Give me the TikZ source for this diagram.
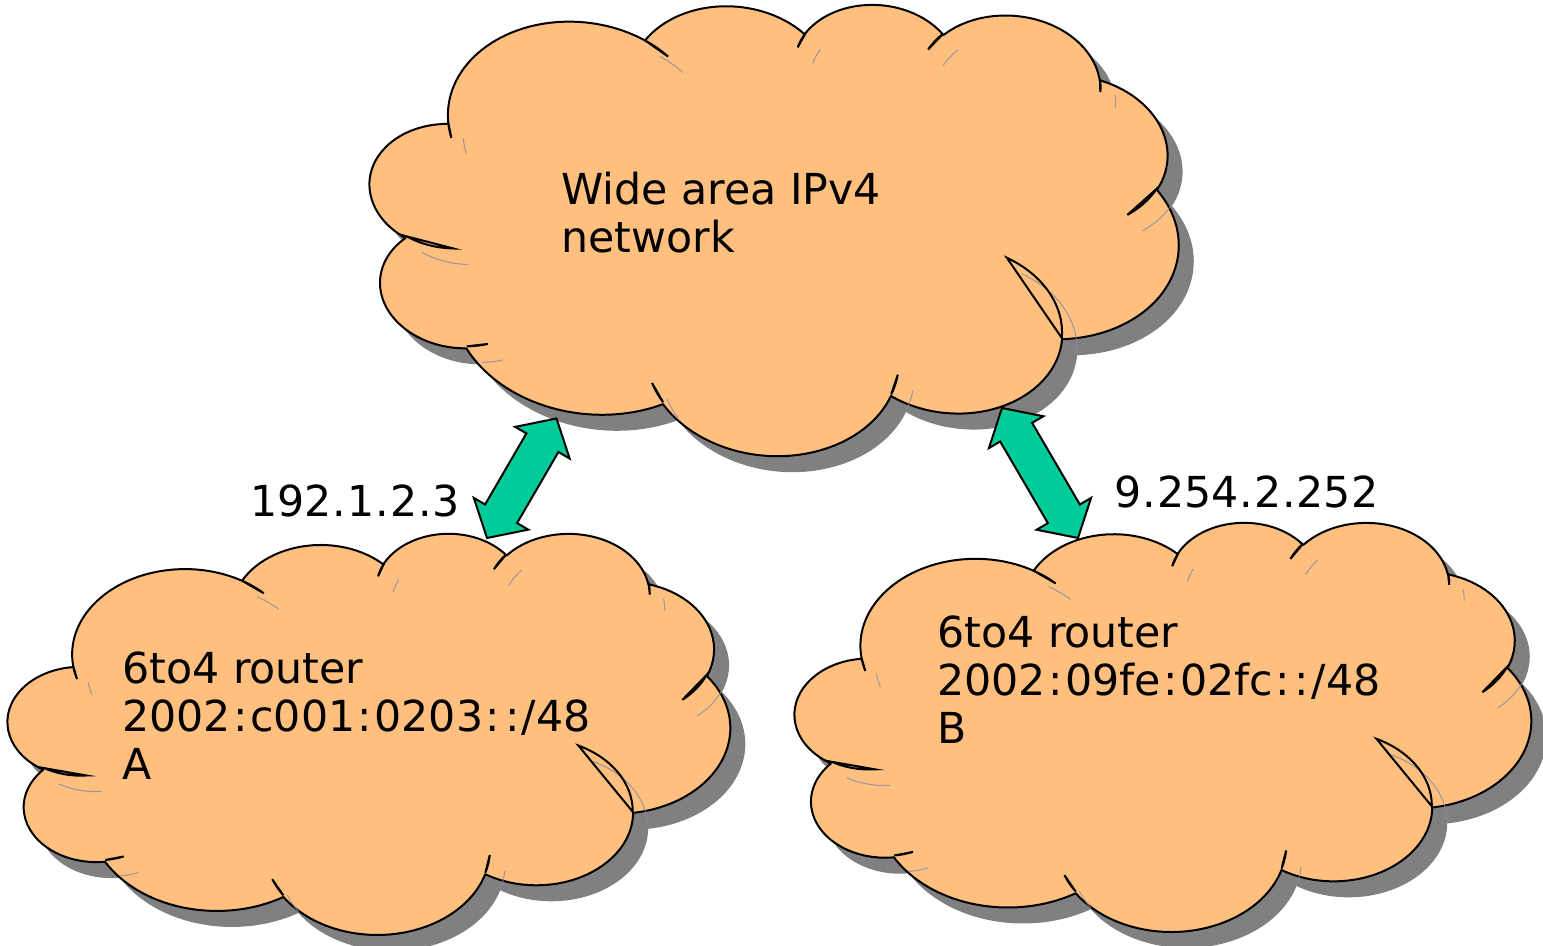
\documentclass[tikz,border=0pt]{standalone}
\usepackage{fontspec}
\setmainfont{DejaVu Sans}
\usetikzlibrary{calc}
\definecolor{cloudfill}{RGB}{255,191,127}
\definecolor{shadowgray}{RGB}{128,128,128}
\definecolor{arrowgreen}{RGB}{0,204,153}
\definecolor{faintblue}{RGB}{130,140,160}

% wider colon and period, closer to the reference face
\newcommand\cln{\kern.058em:\kern.058em}
\newcommand\pnt{\kern.023em.\kern.023em}

% elliptical arc with visual (OOXML-style) start/sweep angles
\newcommand\carc[4]{arc[start angle={atan2((#1)*sin(#3),(#2)*cos(#3))},
  delta angle={atan2((#1)*sin(#3+#4),(#2)*cos(#3+#4))-atan2((#1)*sin(#3),(#2)*cos(#3))
   -360*round((atan2((#1)*sin(#3+#4),(#2)*cos(#3+#4))-atan2((#1)*sin(#3),(#2)*cos(#3))-(#4))/360)},
  x radius=#1, y radius=#2]}

\newcommand\cloudoutline{(3.9,14.37)
  \carc{6.753}{9.19}{-190.4875}{123.7805}
  \carc{5.333}{7.267}{-144.1024}{89.9452}
  \carc{4.365}{5.945}{-145.8079}{99.7230}
  \carc{4.857}{6.595}{-130.9861}{117.2417}
  \carc{5.333}{7.273}{-78.7089}{109.0269}
  \carc{6.775}{9.22}{-46.2673}{130.2690}
  \carc{5.785}{7.867}{0.6250}{114.0333}
  \carc{6.752}{9.215}{22.4516}{115.1726}
  \carc{7.72}{10.543}{66.2426}{75.7110}
  \carc{4.36}{5.918}{-274.9421}{146.7356}
  \carc{4.345}{5.945}{-246.8285}{152.5189}
  -- cycle}

\newcommand\cloudinner[1]{%
  (4.693,26.177) \carc{4.345}{5.945}{86.7420}{26.4295} #1
  (6.928,34.899) \carc{4.36}{5.918}{73.6105}{11.4475} #1
  (16.478,39.09) \carc{6.752}{9.215}{137.6242}{14.0811} #1
  (28.827,34.751) \carc{6.752}{9.215}{6.4533}{15.9984} #1
  (34.129,22.954) \carc{5.785}{7.867}{-70.2924}{70.9174} #1
  (41.798,15.354) \carc{5.333}{7.273}{30.3180}{27.7515} #1
  (38.324,5.426) \carc{4.857}{6.595}{-13.7443}{14.8589} #1
  (29.078,3.952) \carc{4.857}{6.595}{-149.1815}{18.1954} #1
  (22.141,4.72) \carc{4.365}{5.945}{-163.4943}{17.6864} #1
  (14.0,5.192) \carc{6.753}{9.19}{-66.7070}{12.3194} #1
  (4.127,15.789) \carc{6.753}{9.19}{157.6544}{11.8582} #1}

% cx cy W H rotation name
\newcommand\drawcloud[6]{%
  \coordinate (#6) at (#1,#2);
  \begin{scope}[shift={(#1+15,#2+16)}, rotate=#5, xscale=#3/43.2, yscale=#4/43.2, shift={(-21.6,-21.6)}]
    \fill[shadowgray] \cloudoutline;
  \end{scope}
  \begin{scope}[shift={(#1,#2)}, rotate=#5, xscale=#3/43.2, yscale=#4/43.2, shift={(-21.6,-21.6)}]
    \filldraw[cloudbody] \cloudoutline;
  \end{scope}
  \begin{scope}[shift={(#1+15,#2+16)}, rotate=#5, xscale=#3/43.2, yscale=#4/43.2, shift={(-21.6,-21.6)}]
    \draw[faintline] \cloudinner{};
  \end{scope}
  \begin{scope}[shift={(#1,#2)}, rotate=#5, xscale=#3/43.2, yscale=#4/43.2, shift={(-21.6,-21.6)}]
    \draw[innerline] \cloudinner{-- cycle};
  \end{scope}
}

\newcommand\blockarrow[2]{%
  \filldraw[bigarrow] (#1)
   -- ($(#1)!14pt!(#2)!15.75pt!90:(#2)$)
   -- ($(#1)!14pt!(#2)!9.25pt!90:(#2)$)
   -- ($(#2)!14pt!(#1)!9.25pt!-90:(#1)$)
   -- ($(#2)!14pt!(#1)!15.75pt!-90:(#1)$)
   -- (#2)
   -- ($(#2)!14pt!(#1)!15.75pt!90:(#1)$)
   -- ($(#2)!14pt!(#1)!9.25pt!90:(#1)$)
   -- ($(#1)!14pt!(#2)!9.25pt!-90:(#2)$)
   -- ($(#1)!14pt!(#2)!15.75pt!-90:(#2)$)
   -- cycle;}

\tikzset{
  cloudbody/.style={fill=cloudfill, draw=black, line width=1pt, line join=round},
  innerline/.style={draw=black, line width=1pt},
  faintline/.style={draw=faintblue, line width=0.5pt, opacity=0.8},
  bigarrow/.style={fill=arrowgreen, draw=black, line width=1pt, line join=miter},
  lbl/.style={font=\fontsize{21.35}{24}\selectfont, inner sep=0pt, align=left, text=black}
}

\begin{document}
\begin{tikzpicture}[x=0.5pt, y=-0.5pt]
\useasboundingbox (0,0) rectangle (1543,946);

\drawcloud{773.5}{225}{811}{458}{-4.5}{wan}
\drawcloud{369}{733}{722}{401}{0}{routerA}
\drawcloud{1163}{726}{736}{409}{0}{routerB}

% anchor=base west of a multi-line node sits on its last line
\node[lbl, anchor=base west] (wantext) at (561,253) {Wide area IPv4\\network};
\node[lbl, anchor=base west] (atext) at (122,779) {6to4 router\\2002\cln c001\cln 0203\cln\cln/48\\A};
\node[lbl, anchor=base west] (btext) at (937,743) {6to4 router\\2002\cln 09fe\cln 02fc\cln\cln/48\\B};
\node[lbl, anchor=base west] (ipa) at (250,517) {192\pnt 1\pnt 2\pnt 3};
\node[lbl, anchor=base west] (ipb) at (1114,508) {9\pnt 254\pnt 2\pnt 252};

\coordinate (wanA) at (556.5,418.5);
\coordinate (rtrA) at (487,538);
\coordinate (wanB) at (1002,408);
\coordinate (rtrB) at (1078,538);
\blockarrow{rtrA}{wanA}
\blockarrow{wanB}{rtrB}
\end{tikzpicture}
\end{document}
